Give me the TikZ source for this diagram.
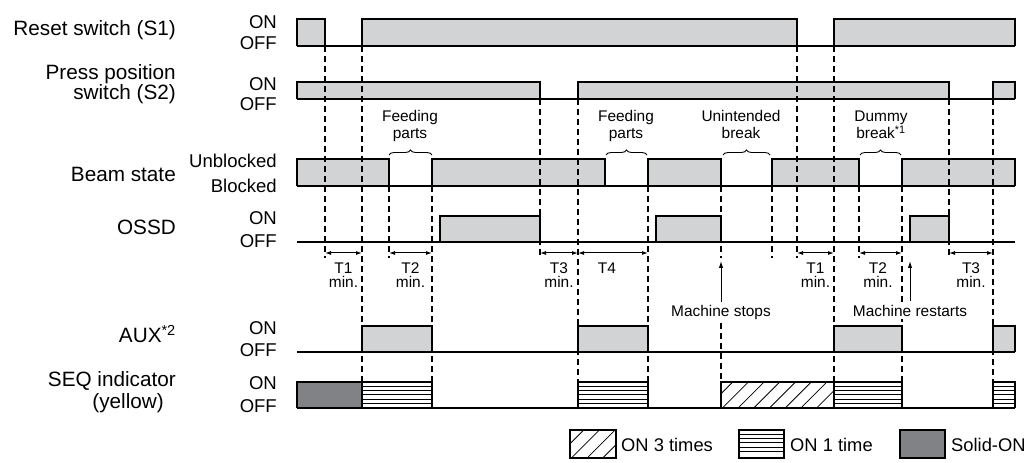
\documentclass[tikz,border=0pt]{standalone}
\usepackage{fontspec}
\setmainfont{Liberation Sans}
\usetikzlibrary{arrows.meta,decorations.pathreplacing}
\definecolor{pulsegray}{RGB}{209,211,212}
\definecolor{solidgray}{RGB}{128,130,133}
\tikzset{
  baseln/.style={line width=2.4bp, black},
  edgeln/.style={line width=1.1bp, black},
  guide/.style={line width=1.1bp, black, dash pattern=on 6bp off 4bp},
  dimarrow/.style={line width=1bp, {Latex[length=6bp,width=4bp]}-{Latex[length=6bp,width=4bp]}},
  uparrow/.style={line width=1bp, -{Latex[length=7bp,width=4.5bp]}},
  rowlabel/.style={anchor=base east, font=\fontsize{20.8}{24}\selectfont, inner sep=0pt},
  statelabel/.style={anchor=base east, font=\fontsize{18.6}{22}\selectfont, inner sep=0pt},
  note/.style={anchor=base, font=\fontsize{15.5}{17}\selectfont, inner sep=0pt},
  legendtext/.style={anchor=base west, font=\fontsize{18.4}{22}\selectfont, inner sep=0pt},
  bracemark/.style={decorate, decoration={brace, amplitude=5bp}, line width=0.9bp},
  thinln/.style={line width=0.8bp, black},
}
\newcommand{\pulsebox}[4]{% x1 x2 top base
  \fill[pulsegray] (#1,#3) rectangle (#2,#4);
  \draw[edgeln] (#1,#4) -- (#1,#3) -- (#2,#3) -- (#2,#4);
}
\newcommand{\stripebox}[4]{% x1 x2 top base
  \fill[white] (#1,#3) rectangle (#2,#4);
  \foreach \yy in {4.3,8.6,12.9,17.2,21.5} {\draw[thinln] (#1,#3+\yy) -- (#2,#3+\yy);}
  \draw[edgeln] (#1,#4) -- (#1,#3) -- (#2,#3) -- (#2,#4);
}
\newcommand{\hatchbox}[4]{% x1 x2 top base
  \begin{scope}
    \clip (#1,#3) rectangle (#2,#4);
    \foreach \k in {0,...,12} {\draw[thinln] (#1-30+\k*15.7,#4) -- ++(30,-30);}
  \end{scope}
  \draw[edgeln] (#1,#4) -- (#1,#3) -- (#2,#3) -- (#2,#4);
}
\begin{document}
\begin{tikzpicture}[x=1bp,y=-1bp]
\useasboundingbox (0,0) rectangle (1028,463);

% ---------- pulses ----------
\foreach \a/\b in {297/325,362/797,834/1015} {\pulsebox{\a}{\b}{19}{46}}
\foreach \a/\b in {297/540,578/949,993/1015} {\pulsebox{\a}{\b}{82}{99}}
\foreach \a/\b in {297/389,432/605,648/721,772/859,902/1015} {\pulsebox{\a}{\b}{159}{186}}
\foreach \a/\b in {440/540,656/721,910/949} {\pulsebox{\a}{\b}{216}{242}}
\foreach \a/\b in {362/432,578/648,834/902,993/1015} {\pulsebox{\a}{\b}{326}{352}}
% SEQ indicator
\fill[solidgray] (297,382) rectangle (362,408);
\draw[edgeln] (297,408) -- (297,382) -- (362,382) -- (362,408);
\foreach \a/\b in {362/432,578/648,834/902,993/1015} {\stripebox{\a}{\b}{382}{408}}
\hatchbox{721}{834}{382}{408}

% ---------- dashed guides ----------
\foreach \x/\ya/\yb in {325/46/258, 362/46/382, 389/186/258, 432/186/382,
  540/99/258, 578/99/382, 648/186/382, 721/186/258, 772/186/258, 797/46/258,
  834/46/382, 859/186/258, 902/186/382, 949/99/258, 993/99/382}
  {\draw[guide] (\x,\ya) -- (\x,\yb);}
\draw[guide] (721,323) -- (721,382);

% ---------- baselines ----------
\foreach \yb in {46,99,186,242,352,408} {\draw[baseln] (297,\yb) -- (1015,\yb);}

% ---------- row labels ----------
\node[rowlabel] (lS1) at (176,36) {Reset switch (S1)};
\node[rowlabel] (lS2a) at (176,80) {Press position};
\node[rowlabel] (lS2b) at (176,100) {switch (S2)};
\node[rowlabel] (lBeam) at (176,182) {Beam state};
\node[rowlabel] (lOSSD) at (176,235) {OSSD};
\node[rowlabel] (lAUX) at (176,343) {AUX\textsuperscript{*2}};
\node[rowlabel] (lSEQa) at (176,387) {SEQ indicator};
\node[rowlabel] (lSEQb) at (164,409) {(yellow)};

% ---------- state labels ----------
\node[statelabel] (s1on) at (277,28.5) {ON};
\node[statelabel] (s1off) at (277,50) {OFF};
\node[statelabel] (s2on) at (277,90.5) {ON};
\node[statelabel] (s2off) at (277,111) {OFF};
\node[statelabel] (bun) at (277,168) {Unblocked};
\node[statelabel] (bbl) at (277,193) {Blocked};
\node[statelabel] (oon) at (277,225) {ON};
\node[statelabel] (ooff) at (277,248) {OFF};
\node[statelabel] (aon) at (277,335) {ON};
\node[statelabel] (aoff) at (277,357) {OFF};
\node[statelabel] (qon) at (277,390) {ON};
\node[statelabel] (qoff) at (277,412) {OFF};

% ---------- braces and notes ----------
\draw[bracemark] (389,155) -- (432,155);
\draw[bracemark] (606,155) -- (647,155);
\draw[bracemark] (723,155) -- (770,155);
\draw[bracemark] (860,155) -- (901,155);
\node[note] (n1a) at (410,122) {Feeding};
\node[note] (n1b) at (410,138.5) {parts};
\node[note] (n2a) at (626,122) {Feeding};
\node[note] (n2b) at (626,138.5) {parts};
\node[note] (n3a) at (741,122) {Unintended};
\node[note] (n3b) at (741,138.5) {break};
\node[note] (n4a) at (881,122) {Dummy};
\node[note] (n4b) at (881,138.5) {break\textsuperscript{*1}};

% ---------- time intervals ----------
\coordinate (d1a) at (325,253); \coordinate (d1b) at (362,253);
\coordinate (d2a) at (389,253); \coordinate (d2b) at (432,253);
\coordinate (d3a) at (540,253); \coordinate (d3b) at (578,253);
\coordinate (d4a) at (578,253); \coordinate (d4b) at (648,253);
\coordinate (d5a) at (797,253); \coordinate (d5b) at (834,253);
\coordinate (d6a) at (859,253); \coordinate (d6b) at (902,253);
\coordinate (d7a) at (949,253); \coordinate (d7b) at (993,253);
\foreach \i in {1,...,7} {\draw[dimarrow] (d\i a) -- (d\i b);}
\node[note] (t1) at (343.5,273.5) {T1};
\node[note] (t1m) at (343.5,287.7) {min.};
\node[note] (t2) at (410.5,273.5) {T2};
\node[note] (t2m) at (410.5,287.7) {min.};
\node[note] (t3) at (559,273.5) {T3};
\node[note] (t3m) at (559,287.7) {min.};
\node[note] (t4) at (607,273.5) {T4};
\node[note] (t5) at (815.5,273.5) {T1};
\node[note] (t5m) at (815.5,287.7) {min.};
\node[note] (t6) at (878,273.5) {T2};
\node[note] (t6m) at (878,287.7) {min.};
\node[note] (t7) at (971,273.5) {T3};
\node[note] (t7m) at (971,287.7) {min.};

% ---------- machine events ----------
\node[note] (mstop) at (721,317) {Machine stops};
\node[note, fill=white, inner sep=1.5bp] (mrest) at (910,317) {Machine restarts};
\coordinate (stopTip) at (721,261);
\coordinate (restTip) at (910,261);
\draw[uparrow] (721,302) -- (stopTip);
\draw[uparrow] (910,301) -- (restTip);

% ---------- legend ----------
\hatchbox{570}{616}{430}{458}
\draw[edgeln] (570,430) rectangle (616,458);
\node[legendtext] (lg1) at (621,451) {ON 3 times};
\stripebox{739}{784}{430}{458}
\draw[edgeln] (739,430) rectangle (784,458);
\node[legendtext] (lg2) at (790,451) {ON 1 time};
\fill[solidgray] (900,430) rectangle (945,458);
\draw[edgeln] (900,430) rectangle (945,458);
\node[legendtext] (lg3) at (951,451) {Solid-ON};
\end{tikzpicture}
\end{document}
